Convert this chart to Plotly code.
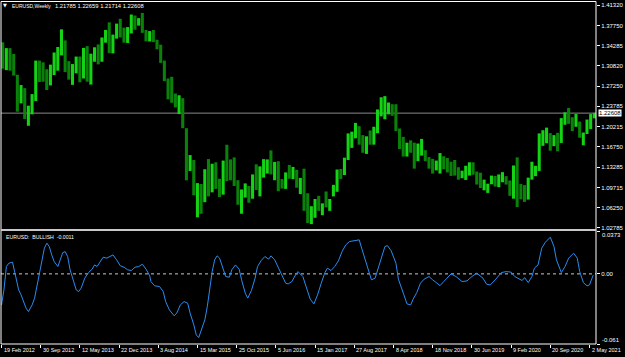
import pandas as pd
import plotly.graph_objects as go

# ---------------- data ----------------
symbol_text = "EURUSD,Weekly"
last_ohlc_text = "1.21785 1.22659 1.21714 1.22608"
indicator_text = "EURUSD:  BULLISH  -0.0011"
last_price = 1.22608

first_bar = "2012-02-19"          # first weekly bar shown
bar_step_days = 21                # each drawn bar groups 3 weekly bars
first_open = 1.3220

bar_high = [1.3486, 1.3386, 1.3385, 1.3284, 1.2925, 1.2747, 1.2693, 1.2390, 1.2590, 1.3170,
            1.3170, 1.3140, 1.3020, 1.3100, 1.3310, 1.3405, 1.3711, 1.3520, 1.3160, 1.3110,
            1.3240, 1.3240, 1.3390, 1.3420, 1.3290, 1.3400, 1.3450, 1.3570, 1.3700, 1.3832,
            1.3620, 1.3810, 1.3893, 1.3740, 1.3750, 1.3967, 1.3950, 1.3905, 1.3995, 1.3700,
            1.3680, 1.3700, 1.3530, 1.3445, 1.3170, 1.2860, 1.2890, 1.2600, 1.2570, 1.2520,
            1.2000, 1.1535, 1.1450, 1.1050, 1.1035, 1.1290, 1.1466, 1.1385, 1.1410, 1.1125,
            1.1440, 1.1714, 1.1460, 1.1495, 1.1100, 1.0940, 1.1045, 1.1000, 1.1200, 1.1375,
            1.1340, 1.1465, 1.1460, 1.1616, 1.1415, 1.1428, 1.1120, 1.1235, 1.1365, 1.1330,
            1.1280, 1.1140, 1.1300, 1.0875, 1.0650, 1.0775, 1.0830, 1.0700, 1.0905, 1.0775,
            1.1020, 1.1285, 1.1295, 1.1490, 1.1910, 1.1940, 1.2092, 1.2035, 1.1880, 1.1860,
            1.1960, 1.2025, 1.2325, 1.2535, 1.2555, 1.2445, 1.2415, 1.2415, 1.1995, 1.1850,
            1.1750, 1.1790, 1.1750, 1.1735, 1.1815, 1.1620, 1.1500, 1.1470, 1.1440, 1.1570,
            1.1515, 1.1485, 1.1420, 1.1450, 1.1325, 1.1265, 1.1350, 1.1410, 1.1410, 1.1250,
            1.1230, 1.1110, 1.1040, 1.1180, 1.1175, 1.1200, 1.1240, 1.1170, 1.1095, 1.1355,
            1.1495, 1.1035, 1.1015, 1.1145, 1.1420, 1.1350, 1.1910, 1.1965, 1.2010, 1.1915,
            1.1880, 1.1920, 1.2175, 1.2275, 1.2350, 1.2190, 1.2245, 1.2115, 1.1925, 1.2150,
            1.2245, 1.2266]
bar_low = [1.3030, 1.3005, 1.2995, 1.2910, 1.2286, 1.2430, 1.2160, 1.2042, 1.2240, 1.2470,
           1.2800, 1.2805, 1.2660, 1.2740, 1.2920, 1.2995, 1.3260, 1.2970, 1.2840, 1.2750,
           1.2950, 1.2795, 1.2860, 1.2805, 1.2755, 1.3150, 1.3105, 1.3150, 1.3480, 1.3300,
           1.3295, 1.3550, 1.3570, 1.3480, 1.3475, 1.3640, 1.3705, 1.3775, 1.3650, 1.3503,
           1.3500, 1.3490, 1.3365, 1.3130, 1.2815, 1.2500, 1.2440, 1.2360, 1.2245, 1.2000,
           1.1098, 1.1260, 1.0840, 1.0458, 1.0520, 1.0720, 1.0820, 1.0890, 1.0950, 1.0810,
           1.0850, 1.1085, 1.1100, 1.1000, 1.0675, 1.0520, 1.0800, 1.0710, 1.0780, 1.0930,
           1.0820, 1.1145, 1.1215, 1.1200, 1.1100, 1.0910, 1.0955, 1.0950, 1.1125, 1.1120,
           1.0970, 1.0860, 1.0570, 1.0360, 1.0340, 1.0450, 1.0570, 1.0495, 1.0630, 1.0570,
           1.0820, 1.0900, 1.1120, 1.1190, 1.1450, 1.1660, 1.1825, 1.1715, 1.1575, 1.1555,
           1.1715, 1.1715, 1.1915, 1.2205, 1.2155, 1.2240, 1.2215, 1.1950, 1.1640, 1.1510,
           1.1510, 1.1575, 1.1300, 1.1430, 1.1525, 1.1430, 1.1300, 1.1215, 1.1270, 1.1215,
           1.1290, 1.1235, 1.1175, 1.1180, 1.1110, 1.1135, 1.1105, 1.1180, 1.1195, 1.1025,
           1.0965, 1.0925, 1.0880, 1.1030, 1.0990, 1.0980, 1.1065, 1.1025, 1.0830, 1.0780,
           1.0636, 1.0770, 1.0725, 1.0765, 1.1110, 1.1170, 1.1260, 1.1695, 1.1740, 1.1610,
           1.1690, 1.1600, 1.1745, 1.2060, 1.2075, 1.1950, 1.2025, 1.1835, 1.1705, 1.1900,
           1.1985, 1.2171]
bar_close = [1.3120, 1.3340, 1.3220, 1.2918, 1.2415, 1.2570, 1.2245, 1.2390, 1.2510, 1.3130,
             1.3040, 1.2940, 1.2740, 1.2930, 1.3220, 1.3310, 1.3360, 1.3020, 1.2990, 1.3110,
             1.3120, 1.2940, 1.3345, 1.2830, 1.3280, 1.3340, 1.3180, 1.3525, 1.3680, 1.3370,
             1.3590, 1.3675, 1.3670, 1.3485, 1.3740, 1.3910, 1.3700, 1.3830, 1.3700, 1.3640,
             1.3645, 1.3525, 1.3410, 1.3135, 1.2830, 1.2625, 1.2525, 1.2390, 1.2460, 1.2000,
             1.1200, 1.1390, 1.0840, 1.0890, 1.0810, 1.1200, 1.0990, 1.1350, 1.1160, 1.0980,
             1.1385, 1.1340, 1.1200, 1.1010, 1.0770, 1.0880, 1.0970, 1.0920, 1.1155, 1.0935,
             1.1270, 1.1400, 1.1450, 1.1220, 1.1320, 1.1135, 1.0980, 1.1160, 1.1155, 1.1230,
             1.0970, 1.1140, 1.0590, 1.0450, 1.0530, 1.0700, 1.0615, 1.0670, 1.0650, 1.0730,
             1.0930, 1.1280, 1.1195, 1.1470, 1.1770, 1.1925, 1.1945, 1.1730, 1.1605, 1.1795,
             1.1770, 1.2005, 1.2220, 1.2250, 1.2315, 1.2350, 1.2330, 1.1960, 1.1650, 1.1610,
             1.1745, 1.1660, 1.1435, 1.1555, 1.1605, 1.1510, 1.1335, 1.1315, 1.1370, 1.1470,
             1.1455, 1.1330, 1.1325, 1.1215, 1.1150, 1.1160, 1.1330, 1.1370, 1.1220, 1.1200,
             1.0990, 1.1015, 1.1040, 1.1165, 1.1020, 1.1120, 1.1160, 1.1030, 1.0830, 1.1285,
             1.1140, 1.0875, 1.0840, 1.1100, 1.1180, 1.1300, 1.1780, 1.1795, 1.1845, 1.1715,
             1.1860, 1.1830, 1.2120, 1.2190, 1.2080, 1.2045, 1.2075, 1.1900, 1.1900, 1.2020,
             1.2180, 1.22608]

# oscillator: weeks since first bar, value
ind_week = [0, 2, 4, 6, 9, 11, 14, 16, 18, 20, 22, 25, 27, 29, 31, 33, 35, 37, 39, 41,
            43, 46, 48, 50, 52, 54, 56, 59, 61, 63, 65, 68, 71, 74, 76, 78, 80, 83, 86, 89,
            91, 94, 97, 100, 103, 106, 109, 112, 115, 118, 121,
            122, 125, 129, 132, 134, 137, 141, 143, 146, 149, 152, 154, 157, 159, 161, 163, 166, 168, 170, 172,
            174, 176, 178, 181, 183, 186, 188, 191, 194, 196, 199, 201, 204, 207, 209, 212, 215, 218, 220, 223,
            226, 229, 232, 234, 237, 240, 242,
            246, 249, 252, 255, 258, 261, 264, 266, 269, 272, 275, 278, 281, 284, 288, 292, 294, 297, 300, 302,
            305, 308, 311, 313, 315, 318, 322, 324, 328, 331, 334, 336, 339, 342, 345, 349, 352, 355, 358, 361,
            367, 371, 376, 380, 384, 388, 393, 396, 399, 403, 408, 412, 416, 419, 422, 425, 427, 430, 433, 435,
            438, 441, 444, 448, 451, 453, 457, 460, 463, 467, 470, 472, 475, 478, 480, 481, 483]
ind_value = [-0.0270, -0.0139, 0.0064, 0.0093, 0.0102, 0.0006, -0.0139, -0.0183, -0.0241, -0.0298,
             -0.0328, -0.0270, -0.0211, -0.0110, 0.0006, 0.0107, 0.0224, 0.0267, 0.0238, 0.0165,
             0.0107, 0.0064, 0.0122, 0.0185, 0.0194, 0.0151, 0.0035, -0.0067, -0.0139, -0.0154,
             -0.0124, -0.0037, 0.0011, 0.0041, 0.0078, 0.0064, 0.0093, 0.0145, 0.0137, 0.0157,
             0.0165, 0.0122, 0.0070, 0.0058, 0.0035, 0.0029, 0.0058, 0.0064, 0.0084, 0.0041, -0.0017,
             -0.0067, -0.0104, -0.0110, -0.0154, -0.0241, -0.0313, -0.0365, -0.0342, -0.0270, -0.0241,
             -0.0255, -0.0342, -0.0444, -0.0531, -0.0554, -0.0487, -0.0400, -0.0284, -0.0110, 0.0020,
             0.0122, 0.0157, 0.0137, 0.0041, -0.0023, -0.0029, 0.0035, 0.0078, 0.0041, -0.0052,
             -0.0168, -0.0211, -0.0145, -0.0037, 0.0064, 0.0116, 0.0151, 0.0128, 0.0157, 0.0122,
             0.0050, -0.0017, -0.0081, -0.0087, -0.0067, -0.0009, 0.0020,
             -0.0023, -0.0116, -0.0220, -0.0261, -0.0183, -0.0081, 0.0011, 0.0050, 0.0029, 0.0064,
             0.0113, 0.0194, 0.0252, 0.0281, 0.0290, 0.0296, 0.0224, 0.0122, 0.0000, -0.0052,
             -0.0037, 0.0064, 0.0165, 0.0238, 0.0246, 0.0203, 0.0093, -0.0046, -0.0168, -0.0261,
             -0.0270, -0.0220, -0.0163, -0.0081, -0.0046, -0.0023, -0.0052, -0.0081, -0.0102, -0.0067,
             0.0000, -0.0023, -0.0067, -0.0061, -0.0023, 0.0006, -0.0037, -0.0090, -0.0096, -0.0052,
             0.0011, 0.0020, 0.0015, -0.0023, -0.0037, -0.0058, -0.0032, -0.0076, -0.0023, 0.0050,
             0.0078, 0.0224, 0.0276, 0.0319, 0.0238, 0.0122, 0.0011, 0.0064, 0.0137, 0.0180,
             0.0137, 0.0020, -0.0076, -0.0104, -0.0096, -0.0070, -0.0011]

price_ticks = [1.41320, 1.37750, 1.34285, 1.30820, 1.27250, 1.23785, 1.20215,
               1.16750, 1.13285, 1.09715, 1.06250, 1.02785]
ind_top, ind_bottom = 0.0373, -0.061

date_tick_values = ["2012-02-19", "2012-09-30", "2013-05-12", "2013-12-22", "2014-08-03",
                    "2015-03-15", "2015-10-25", "2016-06-05", "2017-01-15", "2017-08-27",
                    "2018-04-08", "2018-11-18", "2019-06-30", "2020-02-09", "2020-09-20",
                    "2021-05-02"]
date_tick_text = ["19 Feb 2012", "30 Sep 2012", "12 May 2013", "22 Dec 2013", "3 Aug 2014",
                  "15 Mar 2015", "25 Oct 2015", "5 Jun 2016", "15 Jan 2017", "27 Aug 2017",
                  "8 Apr 2018", "18 Nov 2018", "30 Jun 2019", "9 Feb 2020", "20 Sep 2020",
                  "2 May 2021"]

# ---------------- layout helpers ----------------
W, H = 625, 357
ML, MR, MT, MB = 1, 29, 2, 13
PH = H - MT - MB
PW = W - ML - MR


def py(px):
    return (H - MB - px) / PH


def pxr(px):
    return (px - ML) / PW


FONT = "Liberation Sans, Arial, sans-serif"
UP, DOWN = "#14d214", "#0a820a"
BLUE = "#2a8cf0"
WEEK_MS = 7 * 24 * 3600 * 1000

start = pd.Timestamp(first_bar)
bar_dates = pd.date_range(start, periods=len(bar_high), freq=f"{bar_step_days}D")
opens = [first_open] + bar_close[:-1]
colors = [UP if c >= o else DOWN for o, c in zip(opens, bar_close)]
ind_dates = [start + pd.Timedelta(weeks=w) for w in ind_week]

fig = go.Figure()
fig.add_trace(go.Bar(
    x=bar_dates, base=bar_low, y=[h - l for h, l in zip(bar_high, bar_low)],
    width=2.5 * WEEK_MS, offset=-0.3 * WEEK_MS,
    marker=dict(color=colors, line=dict(width=0)),
    xaxis="x", yaxis="y", hoverinfo="skip", showlegend=False))
fig.add_trace(go.Scatter(
    x=ind_dates, y=ind_value, mode="lines",
    line=dict(color=BLUE, width=1), xaxis="x", yaxis="y2",
    hoverinfo="skip", showlegend=False))

x_range = [start - pd.Timedelta(weeks=0.408), start + pd.Timedelta(weeks=485.3)]

axis_common = dict(showgrid=False, zeroline=False, showline=False, fixedrange=True)
fig.update_layout(
    width=W, height=H,
    margin=dict(l=ML, r=MR, t=MT, b=MB, pad=0),
    paper_bgcolor="black", plot_bgcolor="black",
    barmode="overlay", showlegend=False,
    font=dict(family=FONT, color="white", size=6),
    xaxis=dict(range=x_range, anchor="y2", tickvals=date_tick_values,
               ticks="outside", ticklen=3, tickcolor="white", tickwidth=1,
               showticklabels=False, **axis_common),
    yaxis=dict(domain=[py(229), 1], range=[1.02559, 1.41839], side="right",
               tickvals=price_ticks, ticktext=[f"{v:.5f}" for v in price_ticks],
               ticks="outside", ticklen=3, tickcolor="white",
               tickfont=dict(family=FONT, size=6, color="white"), **axis_common),
    yaxis2=dict(domain=[0, py(231)], range=[ind_bottom, ind_top], side="right",
                anchor="x", tickvals=[ind_top, 0, ind_bottom], ticktext=["", "0.00", ""],
                ticks="outside", ticklen=3, tickcolor="white",
                tickfont=dict(family=FONT, size=6, color="white"), **axis_common),
)

shapes = [
    # frame
    dict(type="line", xref="paper", yref="paper", x0=0, x1=1, y0=py(1.5), y1=py(1.5),
         line=dict(color="white", width=1)),
    dict(type="line", xref="paper", yref="paper", x0=0, x1=0, y0=0, y1=py(1.5),
         line=dict(color="white", width=1)),
    dict(type="line", xref="paper", yref="paper", x0=1, x1=1, y0=0, y1=py(1.5),
         line=dict(color="white", width=1)),
    dict(type="line", xref="paper", yref="paper", x0=0, x1=1, y0=0, y1=0,
         line=dict(color="white", width=1)),
    dict(type="line", xref="paper", yref="paper", x0=0, x1=1, y0=py(230), y1=py(230),
         line=dict(color="#c8c8c8", width=2)),
    # last price line
    dict(type="line", xref="paper", yref="y", x0=0, x1=1, y0=last_price, y1=last_price,
         line=dict(color="#8a8a8a", width=1), layer="below"),
    # zero level
    dict(type="line", xref="paper", yref="y2", x0=0, x1=1, y0=0, y1=0,
         line=dict(color="#c8c8c8", width=1, dash="dot"), layer="below"),
]

annotations = [
    dict(text="▼", xref="paper", yref="paper", x=pxr(5), y=py(5.5),
         xanchor="center", yanchor="middle", showarrow=False,
         font=dict(size=5, color="white", family="DejaVu Sans")),
    dict(text=symbol_text, xref="paper", yref="paper", x=pxr(10), y=py(6.3),
         xanchor="left", yanchor="middle", showarrow=False,
         font=dict(size=5.0, color="white", family=FONT)),
    dict(text=last_ohlc_text, xref="paper", yref="paper", x=pxr(52.5), y=py(6.3),
         xanchor="left", yanchor="middle", showarrow=False,
         font=dict(size=5.8, color="white", family=FONT)),
    dict(text=indicator_text, xref="paper", yref="paper", x=pxr(3.5), y=py(236.7),
         xanchor="left", yanchor="middle", showarrow=False,
         font=dict(size=5.2, color="white", family=FONT)),
    dict(text=f"{last_price:.5f}", xref="paper", yref="y", x=1, y=last_price,
         xanchor="left", yanchor="middle", xshift=2, showarrow=False,
         bgcolor="white", borderpad=0, font=dict(size=6, color="black", family=FONT)),
    dict(text=f"{ind_top}", xref="paper", yref="paper", x=1, y=py(235),
         xanchor="left", yanchor="middle", xshift=4, showarrow=False,
         font=dict(size=6, color="white", family=FONT)),
    dict(text=f"{ind_bottom}", xref="paper", yref="paper", x=1, y=py(340),
         xanchor="left", yanchor="middle", xshift=4, showarrow=False,
         font=dict(size=6, color="white", family=FONT)),
]
for d, t in zip(date_tick_values, date_tick_text):
    annotations.append(dict(text=t, x=d, xref="x", y=py(349.5), yref="paper",
                            xanchor="left", yanchor="middle", xshift=0, showarrow=False,
                            font=dict(size=5.5, color="white", family=FONT)))

fig.update_layout(shapes=shapes, annotations=annotations)
fig.write_html("out.html")
